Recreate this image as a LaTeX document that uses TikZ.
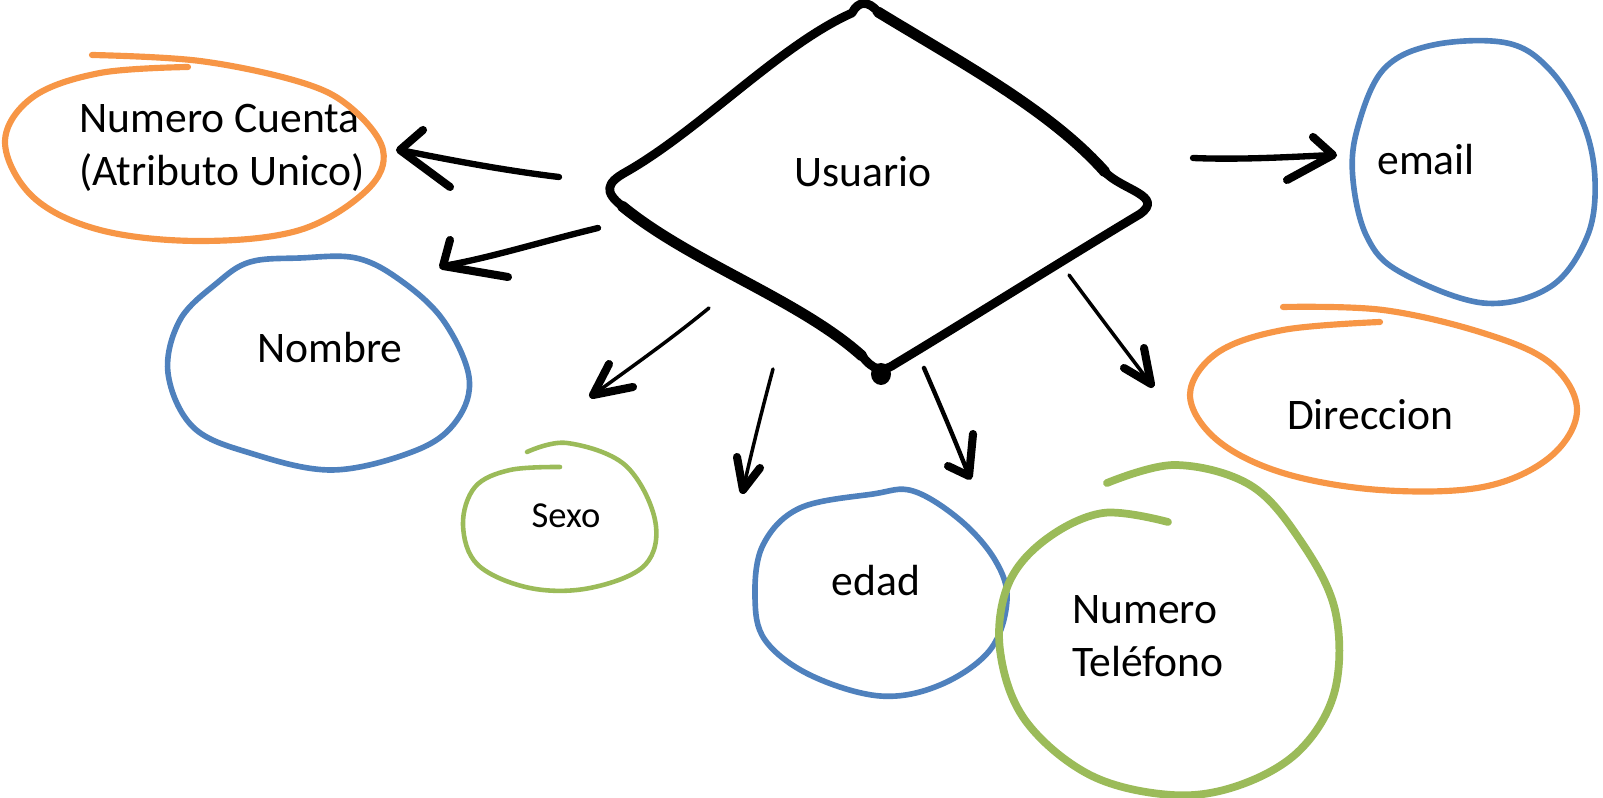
\documentclass[tikz,border=0pt]{standalone}
\usepackage{fontspec}
\setmainfont{Carlito}
\usetikzlibrary{calc}
\definecolor{cOrange}{HTML}{F79646}
\definecolor{cBlue}{HTML}{4F81BD}
\definecolor{cGreen}{HTML}{9BBB59}
\begin{document}
\begin{tikzpicture}[x=0.01cm,y=-0.01cm,
  lbl/.style={font=\fontsize{12.4}{15}\selectfont, inner sep=0pt},
  smalllbl/.style={font=\fontsize{10.4}{12}\selectfont, inner sep=0pt},
  sketch/.style={line cap=round, line join=round},
  blueloop/.style={sketch, draw=cBlue, line width=1.6pt},
  orangeloop/.style={sketch, draw=cOrange, line width=1.75pt},
  greenthin/.style={sketch, draw=cGreen, line width=1.3pt},
  greenthick/.style={sketch, draw=cGreen, line width=2.2pt},
  rhombus/.style={sketch, draw=black, line width=2.5pt},
  rhombusheavy/.style={sketch, draw=black, line width=3.1pt},
  thickshaft/.style={sketch, draw=black, line width=1.8pt},
  midshaft/.style={sketch, draw=black, line width=1.25pt},
  thinshaft/.style={sketch, draw=black, line width=1pt},
  barbs/.style={sketch, draw=black, line width=2.3pt}]
\useasboundingbox (0,0) rectangle (1603,798);

% central diamond
\draw[rhombus] (852,13) .. controls (858,1) and (868,0) .. (878,12)
  .. controls (960,62) and (1050,110) .. (1105,172)
  .. controls (1122,190) and (1165,196) .. (1140,214)
  .. controls (1060,262) and (960,325) .. (895,364)
  .. controls (882,373) and (873,370) .. (862,356)
  .. controls (800,300) and (690,262) .. (622,206)
  .. controls (604,192) and (606,183) .. (626,172)
  .. controls (700,130) and (780,45) .. (852,13);
\draw[rhombusheavy] (878,12) .. controls (960,62) and (1050,110) .. (1105,172);
\draw[rhombusheavy] (862,356) .. controls (800,300) and (690,262) .. (622,206);
\fill (881,374) ellipse [x radius=0.1cm, y radius=0.11cm];

% texts
\node[lbl, anchor=base] (usuario) at (863,187) {Usuario};
\node[lbl, align=left] (ncuenta) at (222,148) {Numero Cuenta\\(Atributo Unico)};
\node[lbl, anchor=base] (nombre) at (330,363) {Nombre};
\node[smalllbl, anchor=base] (sexo) at (566,528) {Sexo};
\node[lbl, anchor=base] (edad) at (876,596) {edad};
\node[lbl, align=left] (tel) at (1148,636) {Numero\\Teléfono};
\node[lbl, anchor=base] (email) at (1426,175) {email};
\node[lbl, anchor=base] (dir) at (1370,430) {Direccion};

% hand drawn loops
\draw[orangeloop] plot[smooth, tension=0.6] coordinates {(188,67) (100,73) (33,97) (5,142) (33,197) (100,230) (200,241) (300,230) (367,190) (383,150) (350,107) (300,82) (200,61) (92,55)};
\draw[orangeloop] plot[smooth, tension=0.6] coordinates {(1380,322) (1283,330) (1217,353) (1190,395) (1217,440) (1283,473) (1380,490) (1483,487) (1550,457) (1577,410) (1550,363) (1483,333) (1383,310) (1283,307)};
\draw[blueloop] plot[smooth cycle, tension=0.6] coordinates {(1433,45) (1383,70) (1357,130) (1353,180) (1367,237) (1400,272) (1483,303) (1550,287) (1587,237) (1595,180) (1583,123) (1550,70) (1507,43)};
\draw[blueloop] plot[smooth cycle, tension=0.6] coordinates {(250,262) (300,258) (356,258) (400,280) (443,320) (469,377) (457,420) (417,450) (333,470) (250,453) (193,427) (168,373) (180,320) (217,283)};
\draw[blueloop] plot[smooth cycle, tension=0.6] coordinates {(873,494) (913,491) (960,520) (995,560) (1007,600) (990,650) (940,685) (880,696) (810,675) (765,640) (755,597) (763,545) (800,508)};
\draw[greenthin] plot[smooth, tension=0.6] coordinates {(527,452) (567,443) (625,465) (655,520) (645,565) (590,588) (530,588) (478,565) (463,525) (475,487) (510,470) (560,467)};
\draw[greenthick] plot[smooth, tension=0.6] coordinates {(1107,483) (1175,465) (1250,485) (1300,540) (1335,610) (1335,690) (1300,750) (1240,785) (1172,795) (1090,775) (1025,720) (1000,650) (1008,585) (1045,540) (1103,513) (1168,522)};

% arrows
\coordinate (a1s) at (559,177); \coordinate (a1e) at (400,150);
\coordinate (a2s) at (598,228); \coordinate (a2e) at (443,266);
\coordinate (a3s) at (709,308); \coordinate (a3e) at (593,395);
\coordinate (a4s) at (773,369); \coordinate (a4e) at (743,490);
\coordinate (a5s) at (924,368); \coordinate (a5e) at (969,476);
\coordinate (a6s) at (1069,275); \coordinate (a6e) at (1151,384);
\coordinate (a7s) at (1193,158); \coordinate (a7e) at (1333,155);

\draw[thickshaft] (a1s) .. controls (500,170) and (440,158) .. (a1e);
\draw[barbs] ($(a1e)+(23,-20)$) -- (a1e) -- ($(a1e)+(50,37)$);
\draw[thickshaft] (a2s) .. controls (540,242) and (490,258) .. (a2e);
\draw[barbs] ($(a2e)+(7,-26)$) -- (a2e) -- ($(a2e)+(65,11)$);
\draw[thinshaft] (a3s) .. controls (670,340) and (630,368) .. (a3e);
\draw[barbs] ($(a3e)+(16,-31)$) -- (a3e) -- ($(a3e)+(40,-8)$);
\draw[thinshaft] (a4s) .. controls (762,410) and (752,450) .. (a4e);
\draw[barbs] ($(a4e)+(-6,-33)$) -- (a4e) -- ($(a4e)+(17,-22)$);
\draw[midshaft] (a5s) .. controls (940,405) and (955,440) .. (a5e);
\draw[barbs] ($(a5e)+(4,-42)$) -- (a5e) -- ($(a5e)+(-21,-10)$);
\draw[thinshaft] (a6s) .. controls (1095,310) and (1125,350) .. (a6e);
\draw[barbs] ($(a6e)+(-7,-36)$) -- (a6e) -- ($(a6e)+(-27,-16)$);
\draw[thickshaft] (a7s) .. controls (1240,160) and (1290,157) .. (a7e);
\draw[barbs] ($(a7e)+(-20,-18)$) -- (a7e) -- ($(a7e)+(-46,25)$);
\end{tikzpicture}
\end{document}
